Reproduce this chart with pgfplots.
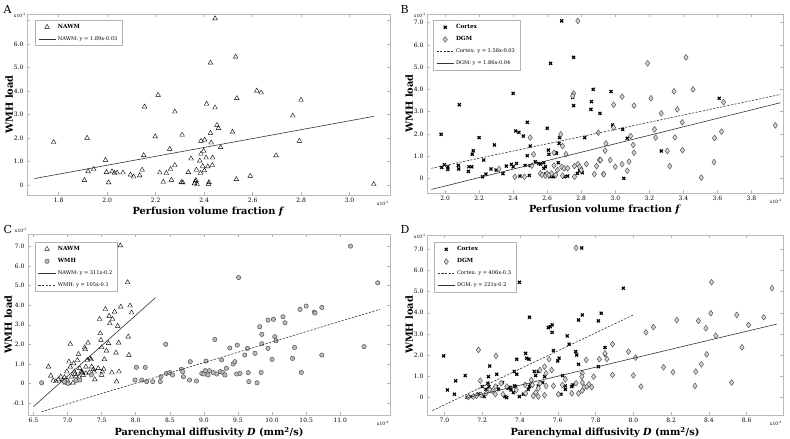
\documentclass[border=0pt]{standalone}
\usepackage{fontspec}
\setmainfont{DejaVu Serif}
\usepackage{pgfplots}
\pgfplotsset{compat=1.18}
\pgfplotsset{
  panel/.style={
    scale only axis,
    clip mode=individual,
    axis line style={gray!55, line width=0.6pt},
    tick style={gray!60, line width=0.5pt},
    tick align=inside,
    major tick length=3pt,
    ticklabel style={font=\fontsize{6}{7}\selectfont, text=black},
    /pgf/number format/assume math mode=true,
    xlabel style={font=\fontsize{9.8}{11}\selectfont\bfseries, yshift=3pt},
    ylabel style={font=\fontsize{9.8}{11}\selectfont\bfseries, yshift=-6pt},
    legend style={anchor=north west, draw=gray!60, line width=0.6pt,
      font=\fontsize{5.1}{6}\selectfont, row sep=2.5pt, inner xsep=3pt, inner ysep=2pt,
      cells={anchor=west}},
    legend image post style={line width=0.6pt},
  },
  tri/.style={only marks, mark=triangle, mark size=2.7pt, mark options={draw=black, fill=white, line width=0.4pt}},
  circ/.style={only marks, mark=*, mark size=2.2pt, mark options={draw=black!75, fill=gray!55, line width=0.4pt}},
  dia/.style={only marks, mark=diamond*, mark size=2.9pt, mark options={draw=black!75, fill=gray!35, line width=0.4pt}},
  crs/.style={only marks, mark=x, mark size=2.1pt, mark options={draw=black, line width=1.2pt}},
  dsh/.style={black!80, line width=0.6pt, dash pattern=on 2.2pt off 1.4pt},
  sld/.style={black!80, line width=0.6pt},
}
\newcommand{\scl}{\fontsize{4.5}{5}\selectfont x10\textsuperscript{-2}}
\newcommand{\scf}{\fontsize{4.5}{5}\selectfont x10\textsuperscript{-4}}
\begin{document}
\begin{tikzpicture}
\path[use as bounding box] (0pt,0pt) rectangle (790pt,439pt);
\node[font=\fontsize{11}{12}\selectfont, anchor=west] at (0pt,430pt) {A};
\node[font=\fontsize{11}{12}\selectfont, anchor=west] at (397pt,430pt) {B};
\node[font=\fontsize{11}{12}\selectfont, anchor=west] at (0pt,210pt) {C};
\node[font=\fontsize{11}{12}\selectfont, anchor=west] at (397pt,210pt) {D};

% ---------------- A
\begin{axis}[panel, at={(27pt,244pt)}, anchor=south west, width=363pt, height=181pt,
  xmin=1.669, xmax=3.167, ymin=-0.43, ymax=7.28,
  xtick={1.8,2.0,2.2,2.4,2.6,2.8,3.0}, xticklabels={1.8,2.0,2.2,2.4,2.6,2.8,3.0},
  ytick={0,1,2,3,4,5,6,7}, yticklabels={0,1.0,2.0,3.0,4.0,5.0,6.0,{}},
  xlabel={Perfusion volume fraction \textit{f}}, ylabel={WMH load},
  legend style={at={(0.022,0.967)}}]
\addplot[tri] coordinates {
(1.779,1.82)(1.917,2.0)(1.906,0.2)(1.921,0.57)(1.944,0.67)(1.993,1.06)(1.997,0.54)(2.006,0.1)
(2.020,0.57)(2.030,0.5)(2.041,0.52)(2.065,0.52)(2.096,0.43)(2.109,0.35)(2.134,0.40)(2.144,0.64)
(2.151,1.26)(2.154,3.33)(2.198,2.06)(2.210,3.83)(2.217,0.52)(2.231,0.13)(2.244,0.5)(2.258,1.53)
(2.261,0.67)(2.265,0.21)(2.279,3.12)(2.279,0.84)(2.306,0.11)(2.312,0.1)(2.309,2.13)(2.335,0.54)
(2.346,1.12)(2.364,0.14)(2.368,0.64)(2.371,0.03)(2.382,1.03)(2.387,1.32)(2.387,1.87)(2.385,0.5)
(2.394,0.8)(2.398,1.45)(2.402,1.92)(2.401,0.61)
(2.445,7.09)(2.426,5.2)(2.53,5.46)(2.617,4.01)(2.635,3.93)(2.535,3.69)(2.80,3.62)(2.41,3.45)
(2.445,3.29)(2.766,2.95)(2.453,2.55)(2.459,2.41)(2.517,2.26)(2.426,2.21)(2.793,1.87)(2.429,1.8)
(2.468,1.6)(2.408,1.16)(2.435,1.16)(2.697,1.25)(2.415,0.78)(2.434,0.84)(2.59,0.38)(2.533,0.24)
(2.42,0.11)(2.418,0.04)(3.10,0.03)(2.366,0.2)(2.36,0.06)
};
\addlegendentry{\fontsize{5.7}{6}\selectfont\textbf{NAWM}}
\addplot[sld] coordinates {(1.70,0.27)(3.10,2.92)};
\addlegendentry{NAWM: y = 1.89x-0.03}
\node[anchor=east, inner sep=1pt] at (rel axis cs:0,0.995) {\scl};
\node[anchor=north east, inner sep=1pt] at (rel axis cs:1.0,-0.025) {\scl};
\end{axis}

% ---------------- B
\begin{axis}[panel, at={(427pt,246pt)}, anchor=south west, width=356pt, height=179pt,
  xmin=1.894, xmax=3.985, ymin=-0.66, ymax=7.39,
  xtick={2.0,2.2,2.4,2.6,2.8,3.0,3.2,3.4,3.6,3.8}, xticklabels={2.0,2.2,2.4,2.6,2.8,3.0,3.2,3.4,3.6,3.8},
  ytick={0,1,2,3,4,5,6,7}, yticklabels={0,1.0,2.0,3.0,4.0,5.0,6.0,7.0},
  xlabel={Perfusion volume fraction \textit{f}}, ylabel={WMH load},
  legend style={at={(0.017,0.966)}}]
\addplot[crs] coordinates {
(2.685,7.08)(2.755,5.44)(2.62,5.17)(2.40,3.82)(2.87,4.0)(2.86,3.45)(2.857,3.10)(2.91,2.92)
(2.75,3.64)(2.755,3.27)(2.084,3.31)(1.977,1.98)(2.20,1.83)(2.415,2.13)(2.434,2.07)(2.46,1.9)
(2.483,2.52)(2.60,2.25)(2.50,1.45)(2.29,1.5)(2.166,1.24)(2.16,1.08)(2.227,0.82)(2.483,1.02)
(2.607,1.27)(2.61,1.08)(2.646,1.15)(2.655,1.13)(2.67,1.57)(2.673,1.83)(2.82,1.83)(1.98,0.49)(1.996,0.61)
(2.016,0.52)(2.016,0.4)(2.078,0.58)(2.08,0.42)(2.137,0.31)(2.14,0.52)(2.157,0.52)(2.22,0.07)
(2.24,0.19)(2.27,0.42)(2.30,0.37)(2.34,0.21)(2.36,0.55)(2.39,0.63)(2.40,0.52)(2.42,0.67)
(2.44,0.1)(2.47,0.58)(2.495,0.13)(2.50,0.57)(2.53,0.75)(2.55,0.67)(2.56,0.64)(2.58,0.7)
(2.59,0.52)(2.58,0.45)(2.59,0.19)(2.616,0.07)(2.636,0.07)(2.665,0.7)(2.70,0.07)(2.72,0.1)
(2.777,0.22)(2.79,0.34)(2.806,0.25)(2.80,0.4)(2.975,3.9)(2.984,2.4)(3.043,2.2)(3.07,1.8)
(3.05,0.0)(3.27,1.23)(3.61,3.6)
};
\addlegendentry{\fontsize{5.7}{6}\selectfont\textbf{Cortex}}
\addplot[dia] coordinates {
(2.78,7.08)(2.755,3.82)(2.75,3.7)(2.50,1.83)(2.68,1.98)(2.69,1.45)(2.52,1.08)(2.64,1.15)
(2.71,1.09)(2.41,0.07)(2.466,0.07)(2.317,0.42)(2.51,0.57)(2.56,0.22)(2.57,0.15)(2.59,0.12)
(2.60,0.22)(2.61,0.15)(2.64,0.57)(2.65,0.15)(2.66,0.37)(2.685,0.52)(2.69,0.12)(2.70,0.45)
(2.72,0.45)(2.76,0.07)(2.76,0.55)(2.78,0.64)(2.79,0.52)(2.80,0.37)(2.83,0.64)(2.877,0.19)
(2.89,0.55)(2.906,0.82)(2.93,0.19)(2.626,0.22)
(3.19,5.17)(3.415,5.44)(3.456,4.0)(3.345,3.91)(3.21,3.6)(3.04,3.67)(2.99,3.31)(3.11,3.27)
(3.636,3.42)(3.364,3.1)(3.27,2.92)(3.393,2.52)(3.23,2.2)(3.237,1.83)(3.35,1.84)(3.583,1.81)
(3.624,2.1)(3.94,2.38)(2.99,2.28)(3.09,1.9)(2.945,1.57)(2.94,1.24)(3.105,1.5)(3.11,1.15)
(3.305,1.23)(3.395,1.26)(2.914,0.82)(2.97,0.82)(3.0,0.52)(3.04,0.64)(3.08,0.75)(3.07,0.34)
(2.933,0.18)(3.32,0.55)(3.58,0.73)(3.505,0.03)(2.90,2.05)
};
\addlegendentry{\fontsize{5.7}{6}\selectfont\textbf{DGM}}
\addplot[dsh] coordinates {(1.92,0.45)(3.97,3.77)};
\addlegendentry{Cortex: y = 1.58x-0.03}
\addplot[sld] coordinates {(1.92,-0.5)(3.97,3.40)};
\addlegendentry{DGM: y = 1.86x-0.04}
\node[anchor=east, inner sep=1pt] at (rel axis cs:0,0.995) {\scl};
\node[anchor=north east, inner sep=1pt] at (rel axis cs:1.0,-0.025) {\scl};
\end{axis}

% ---------------- C
\begin{axis}[panel, at={(28pt,24pt)}, anchor=south west, width=362pt, height=181pt,
  xmin=6.42, xmax=11.73, ymin=-1.62, ymax=7.65,
  xtick={6.5,7.0,7.5,8.0,8.5,9.0,9.5,10.0,10.5,11.0}, xticklabels={6.5,7.0,7.5,8.0,8.5,9.0,9.5,10.0,10.5,11.0},
  ytick={-1,0,1,2,3,4,5,6,7}, yticklabels={-0.1,0,1.0,2.0,3.0,4.0,5.0,6.0,7.0},
  xlabel={Parenchymal diffusivity \textit{D} (mm\textsuperscript{2}/s)}, ylabel={WMH load},
  legend style={at={(0.019,0.956)}}]
\addplot[tri] coordinates {
(6.72,0.85)(6.754,0.39)(6.79,0.14)(6.83,0.1)(6.866,0.2)(6.90,0.34)(6.93,0.14)(6.954,0.31)
(6.974,0.03)(6.99,0.6)(7.0,0.14)(7.01,0.0)(7.04,2.01)(7.02,1.11)(7.04,0.85)(7.06,0.34)
(7.08,0.03)(7.09,1.02)(7.10,0.6)(7.11,0.48)(7.125,0.38)(7.145,1.19)(7.16,1.5)(7.17,0.34)
(7.18,0.77)(7.20,0.6)(7.21,0.55)(7.22,0.55)(7.23,0.43)(7.25,1.83)(7.26,1.74)(7.27,0.51)
(7.27,0.85)(7.29,1.19)(7.30,2.08)(7.32,0.56)(7.33,1.28)(7.345,1.23)(7.355,0.85)(7.38,0.72)
(7.39,0.6)(7.40,0.2)(7.45,0.77)(7.47,3.29)(7.48,2.56)(7.49,2.22)(7.50,1.84)(7.50,0.43)
(7.51,0.6)(7.53,0.73)(7.54,1.23)(7.555,3.8)(7.57,1.67)(7.60,2.05)(7.61,3.45)(7.62,3.07)
(7.65,0.55)(7.66,3.29)(7.69,3.67)(7.71,1.57)(7.72,0.09)(7.736,2.94)(7.75,2.08)(7.755,0.6)
(7.775,7.06)(7.78,3.92)(7.88,5.17)(7.89,2.39)(7.90,1.45)(7.917,3.98)(7.94,3.62)
};
\addlegendentry{\fontsize{5.7}{6}\selectfont\textbf{NAWM}}
\addplot[circ] coordinates {
(6.62,0.03)(6.95,0.09)(7.01,0.0)(7.125,0.14)(7.18,0.17)(7.35,0.43)
(7.99,0.17)(8.01,0.82)(8.09,0.17)(8.14,0.82)(8.16,0.09)(8.25,0.09)(8.36,0.09)(8.37,0.34)
(8.44,2.0)(8.45,0.51)(8.50,0.55)(8.54,0.43)(8.67,0.72)(8.69,0.6)(8.70,0.34)(8.79,0.17)
(8.80,1.11)(8.89,0.12)(8.97,0.51)(9.0,0.48)(9.02,0.65)(9.03,1.14)(9.06,0.43)(9.08,0.65)
(9.14,0.55)(9.16,2.25)(9.19,0.48)(9.24,0.6)(9.26,1.2)(9.28,0.55)(9.31,0.43)(9.33,0.77)
(9.38,1.81)(9.43,0.99)(9.455,1.11)(9.48,0.48)(9.49,1.96)(9.51,5.42)(9.53,0.51)(9.60,1.45)
(9.64,1.79)(9.65,0.55)(9.66,0.09)(9.75,1.54)(9.82,2.9)(9.85,2.51)(9.85,2.03)(9.84,0.56)
(9.78,0.03)(9.94,1.79)(9.94,3.24)(10.02,3.28)(10.0,1.23)(10.04,2.39)(10.06,2.18)(10.16,3.41)
(10.19,3.1)(10.33,1.84)(10.30,1.28)(10.43,0.56)(10.41,3.79)(10.5,3.96)(10.62,3.65)(10.63,3.6)
(10.73,3.89)(10.73,1.45)(11.15,7.03)(11.35,1.88)(11.55,5.15)
};
\addlegendentry{\fontsize{5.7}{6}\selectfont\textbf{WMH}}
\addplot[sld] coordinates {(6.5,-1.19)(8.29,4.39)};
\addlegendentry{NAWM: y = 311x-0.2}
\addplot[dsh] coordinates {(6.62,-1.45)(11.58,3.79)};
\addlegendentry{WMH: y = 105x-0.1}
\node[anchor=south east, inner sep=1pt] at (rel axis cs:0,1.0) {\scl};
\node[anchor=north east, inner sep=1pt] at (rel axis cs:1.0,-0.025) {\scf};
\end{axis}

% ---------------- D
\begin{axis}[panel, at={(427pt,24pt)}, anchor=south west, width=356pt, height=180pt,
  xmin=6.908, xmax=8.792, ymin=-0.82, ymax=7.67,
  xtick={7.0,7.2,7.4,7.6,7.8,8.0,8.2,8.4,8.6}, xticklabels={7.0,7.2,7.4,7.6,7.8,8.0,8.2,8.4,8.6},
  ytick={0,1,2,3,4,5,6,7}, yticklabels={0,1.0,2.0,3.0,4.0,5.0,6.0,7.0},
  xlabel={Parenchymal diffusivity \textit{D} (mm\textsuperscript{2}/s)}, ylabel={WMH load},
  legend style={at={(0.02,0.96)}}]
\addplot[crs] coordinates {
(6.996,1.97)(7.016,0.36)(7.053,0.16)(7.06,0.79)(7.11,1.04)(7.397,5.44)(7.45,3.79)(7.727,7.06)
(7.83,3.98)(7.815,3.62)(7.73,3.9)(7.71,3.66)(7.65,2.91)(7.66,2.52)(7.55,3.3)(7.56,3.35)
(7.57,3.43)(7.57,3.08)(7.577,2.22)(7.6,1.73)(7.607,1.86)(7.695,2.17)(7.70,2.01)(7.71,1.57)
(7.815,1.46)(7.383,1.81)(7.43,2.09)(7.436,1.86)(7.448,1.81)(7.24,1.49)(7.277,1.1)(7.233,0.99)
(7.37,1.23)(7.383,1.1)(7.476,1.23)(7.483,1.04)(7.497,1.23)(7.53,0.99)(7.23,0.68)(7.236,0.52)
(7.277,0.52)(7.286,0.39)(7.307,0.71)(7.32,0.05)(7.33,0.0)(7.34,0.44)(7.347,0.49)(7.353,0.36)
(7.365,0.24)(7.37,0.55)(7.377,0.52)(7.397,0.05)(7.418,0.16)(7.444,0.39)(7.45,0.52)(7.455,0.6)
(7.497,0.55)(7.52,0.71)(7.20,0.52)(7.22,0.39)(7.18,0.17)(7.162,0.09)(7.14,0.05)(7.12,0.02)
(7.21,0.05)(7.617,0.16)(7.626,1.04)(7.64,0.55)(7.64,0.39)(7.674,0.52)(7.68,0.6)(7.947,5.16)
(7.85,2.36)
};
\addlegendentry{\fontsize{5.7}{6}\selectfont\textbf{Cortex}}
\addplot[dia] coordinates {
(7.697,7.06)(7.18,2.25)(7.273,1.97)(7.19,0.8)(7.427,0.6)(7.46,0.83)(7.506,1.3)(7.53,1.46)
(7.554,1.81)(7.568,1.3)(7.538,1.15)(7.577,0.55)(7.603,0.16)(7.624,0.6)(7.674,0.2)(7.697,0.68)
(7.71,0.2)(7.73,0.33)(7.73,0.71)(7.74,0.49)(7.75,1.78)(7.755,0.52)(7.765,0.63)(7.78,0.49)
(7.79,0.99)(7.82,1.81)(7.85,2.06)(7.73,1.15)(7.727,0.99)(7.506,0.68)(7.497,0.44)(7.483,0.24)
(7.47,0.08)(7.497,0.05)(7.53,0.11)(7.538,0.55)(7.466,0.6)(7.43,0.2)(7.38,0.36)(7.33,0.52)
(7.31,0.16)(7.30,0.68)(7.27,0.16)(7.27,0.52)(7.254,0.33)(7.24,0.36)(7.22,0.2)(7.194,0.13)
(7.17,0.09)(7.153,0.05)(7.127,0.02)(7.64,0.86)
(8.414,5.44)(8.734,5.16)(8.41,3.98)(8.547,3.9)(8.69,3.79)(8.23,3.66)(8.344,3.62)(8.106,3.32)
(8.067,3.08)(8.384,3.27)(8.61,3.43)(8.436,2.92)(8.575,2.37)(8.388,2.04)(8.36,1.57)(8.33,1.23)
(8.16,1.43)(8.21,1.2)(8.326,0.55)(8.52,0.71)(7.89,2.52)(7.85,2.09)(7.86,1.82)(7.974,2.17)
(8.012,1.89)(8.0,1.05)(8.04,0.52)(7.89,1.07)
};
\addlegendentry{\fontsize{5.7}{6}\selectfont\textbf{DGM}}
\addplot[dsh] coordinates {(6.937,-0.61)(8.0,3.9)};
\addlegendentry{Cortex: y = 406x-0.3}
\addplot[sld] coordinates {(7.11,-0.03)(8.76,3.47)};
\addlegendentry{DGM: y = 221x-0.2}
\node[anchor=east, inner sep=1pt] at (rel axis cs:0,0.995) {\scl};
\node[anchor=north east, inner sep=1pt] at (rel axis cs:1.0,-0.025) {\scf};
\end{axis}
\end{tikzpicture}
\end{document}
